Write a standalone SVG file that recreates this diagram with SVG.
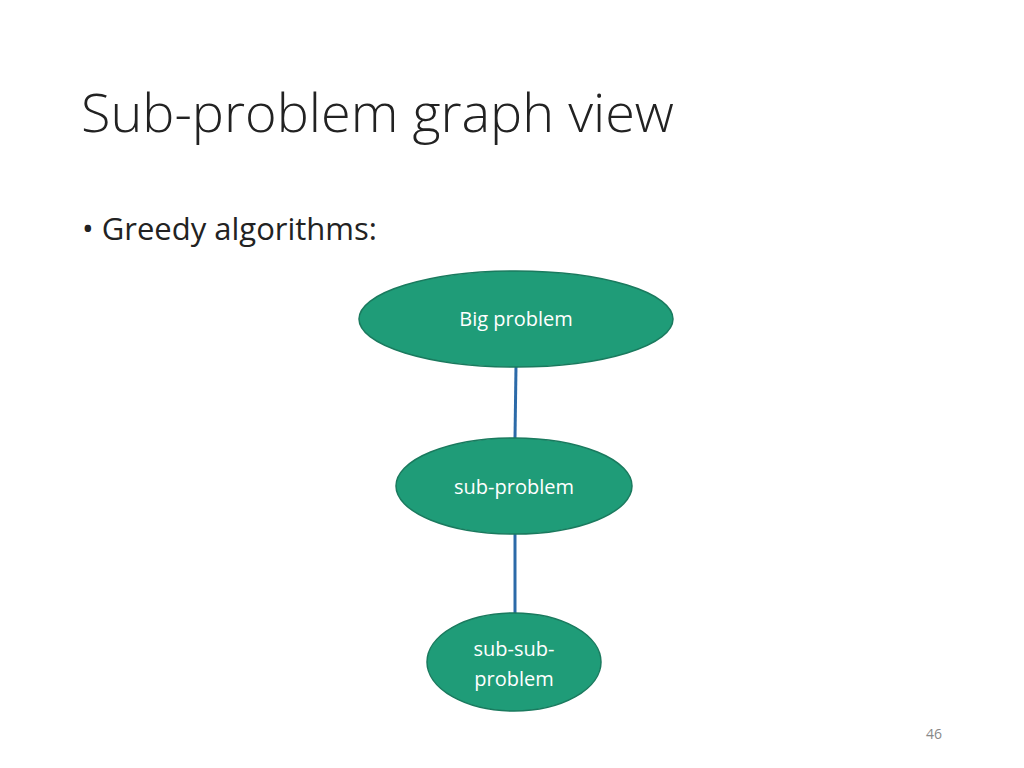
<svg xmlns="http://www.w3.org/2000/svg" width="1024" height="768" viewBox="0 0 1024 768">
<style>
.n{fill:#1f9c78;stroke:#1a7a5e;stroke-width:1.5}
.t{font-family:"Open Sans","Liberation Sans",sans-serif;fill:#fff;font-size:20px;text-anchor:middle}
.c{stroke:#2c6aa8;stroke-width:3;fill:none}
</style>
<rect width="1024" height="768" fill="#fff"/>
<text x="81" y="132" font-family="Open Sans, Liberation Sans, sans-serif" font-size="54" fill="#222" font-weight="300">Sub-problem graph view</text>
<text x="82" y="240" font-family="Open Sans, Liberation Sans, sans-serif" font-size="31" fill="#222">• Greedy algorithms:</text>
<g id="connectors">
<line class="c" x1="516" y1="366" x2="515" y2="438"/>
<line class="c" x1="515" y1="534" x2="515" y2="614"/>
</g>
<g id="big"><ellipse class="n" cx="516" cy="319" rx="157" ry="48"/><text class="t" x="516" y="326">Big problem</text></g>
<g id="sub"><ellipse class="n" cx="514" cy="486" rx="118" ry="48"/><text class="t" x="514" y="494">sub-problem</text></g>
<g id="subsub"><ellipse class="n" cx="514" cy="662" rx="87" ry="49"/><text class="t" x="514" y="656">sub-sub-</text><text class="t" x="514" y="686">problem</text></g>
<text x="934" y="739" font-family="Open Sans, Liberation Sans, sans-serif" font-size="14" fill="#888" text-anchor="middle">46</text>
</svg>
